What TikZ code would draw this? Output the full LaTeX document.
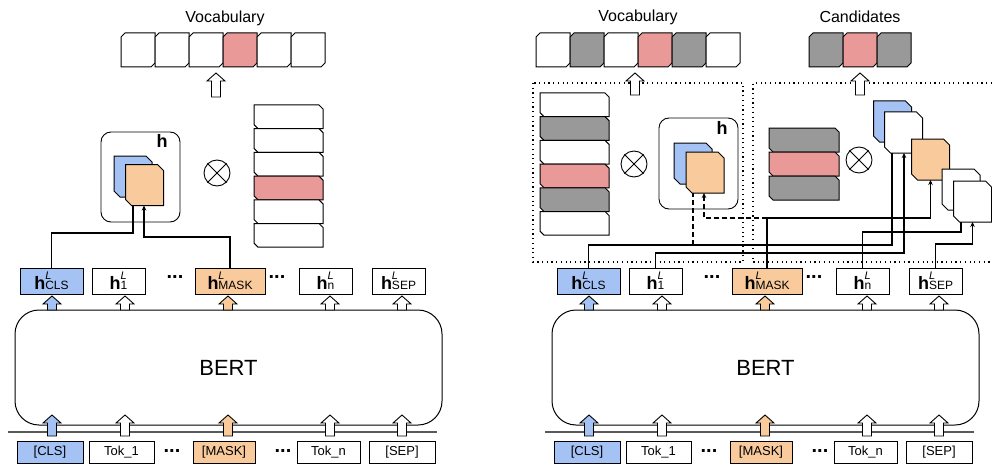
\documentclass[tikz,border=0pt]{standalone}
\usepackage{fontspec}
\setmainfont{Liberation Sans}
\usetikzlibrary{arrows.meta}
\definecolor{cblue}{HTML}{A4C2F4}
\definecolor{corange}{HTML}{F9CB9C}
\definecolor{cpink}{HTML}{EA9999}
\definecolor{cgrey}{HTML}{999999}
\newcommand\barrow[4]{\filldraw[fill=#4,draw=black,line width=0.9pt,line join=miter] ({#1-4.5},#2) -- ({#1-4.5},{#3+8}) -- ({#1-9},{#3+8}) -- (#1,#3) -- ({#1+9},{#3+8}) -- ({#1+4.5},{#3+8}) -- ({#1+4.5},#2) -- cycle;}
% chamfer top-left and bottom-right
\newcommand\chamA[3]{\filldraw[fill=#2, line width=1pt, line join=miter] ([xshift=#3]#1.north west) -- (#1.north east) -- ([yshift=#3]#1.south east) -- ([xshift=-#3]#1.south east) -- (#1.south west) -- ([yshift=-#3]#1.north west) -- cycle;}
% chamfer top-right and bottom-left
\newcommand\chamB[3]{\filldraw[fill=#2, line width=1pt, line join=miter] (#1.north west) -- ([xshift=-#3]#1.north east) -- ([yshift=-#3]#1.north east) -- (#1.south east) -- ([xshift=#3]#1.south west) -- ([yshift=#3]#1.south west) -- cycle;}
\newcommand\hL[1]{{\fontsize{18}{18}\selectfont\bfseries h}\rlap{\raisebox{10pt}{\fontsize{11}{11}\selectfont\itshape L}}{\fontsize{12}{12}\selectfont #1}}
\tikzset{
  tbox/.style={draw, line width=1pt, minimum height=22pt, inner sep=0pt, font=\fontsize{13}{14}\selectfont},
  hbox/.style={draw, line width=1pt, minimum height=26pt, inner sep=0pt},
  cellbox/.style={rectangle, inner sep=0pt, outer sep=0pt},
  hgroup/.style={draw, line width=0.9pt, rounded corners=10pt, minimum width=79pt, minimum height=90pt, inner sep=0pt},
  otimes/.style={circle, draw, line width=0.9pt, minimum size=26pt, inner sep=0pt},
  conn/.style={line width=1.1pt},
  tip/.style={-{Stealth[length=5pt,width=4.5pt]}},
  dashconn/.style={line width=1.1pt, dash pattern=on 5pt off 3pt},
  dotbox/.style={line width=1.2pt, dash pattern=on 1.2pt off 3.5pt},
  label/.style={font=\fontsize{16}{18}\selectfont, inner sep=0pt},
  dots/.style={font=\fontsize{20}{20}\selectfont\bfseries, inner sep=0pt}
}
\newcommand\lowerpart{%
  \node[hbox, fill=cblue, minimum width=63pt] (hcls) at (51.5,281) {\hL{CLS}};
  \node[hbox, minimum width=53pt] (h1) at (118.5,281) {\hL{1}};
  \node[dots] (hd1) at (175,277) {...};
  \node[hbox, fill=corange, minimum width=70pt] (hmask) at (230,281) {\hL{MASK}};
  \node[dots] (hd2) at (277,277) {...};
  \node[hbox, minimum width=53pt] (hn) at (325.5,281) {\hL{n}};
  \node[hbox, minimum width=53pt] (hsep) at (398.5,281) {\hL{SEP}};
  \node[draw, line width=1pt, rounded corners=24pt, minimum width=427pt, minimum height=115pt, font=\fontsize{22}{24}\selectfont] (bert) at (228.5,367.5) {BERT};
  \draw[line width=1.6pt, black!65] (8,432) -- (437,432);
  \barrow{52}{310}{296}{cblue}
  \barrow{125}{310}{296}{white}
  \barrow{228}{310}{296}{corange}
  \barrow{330}{310}{296}{white}
  \barrow{402}{310}{296}{white}
  \barrow{52}{436}{415}{cblue}
  \barrow{125}{436}{415}{white}
  \barrow{228}{436}{415}{corange}
  \barrow{330}{436}{415}{white}
  \barrow{402}{436}{415}{white}
  \node[tbox, fill=cblue, minimum width=66pt] (tcls) at (50,452) {[CLS]};
  \node[tbox, minimum width=65pt] (t1) at (121.5,452) {Tok\_1};
  \node[dots] (td1) at (172,451) {...};
  \node[tbox, fill=corange, minimum width=62pt] (tmask) at (224,452) {[MASK]};
  \node[dots] (td2) at (283,451) {...};
  \node[tbox, minimum width=63pt] (tn) at (328.5,452) {Tok\_n};
  \node[tbox, minimum width=66pt] (tsep) at (402,452) {[SEP]};
}
\begin{document}
\begin{tikzpicture}[x=1pt,y=-1pt]
\useasboundingbox (0,0) rectangle (992,468);
% ---------------- left panel ----------------
\node[label] (lvoc) at (225,18) {Vocabulary};
\foreach \i/\c in {1/white,2/white,3/white,4/cpink,5/white,6/white}{
  \node[cellbox, minimum width=34pt, minimum height=34pt] (lv\i) at ({121+17+34*(\i-1)},50) {};
  \chamA{lv\i}{\c}{4pt}}
\barrow{216}{97}{73}{white}
\node[hgroup] (lhg) at (140.5,177) {};
\node[font=\fontsize{18}{18}\selectfont\bfseries, inner sep=0pt] (lhlab) at (162,141) {h};
\node[cellbox, minimum width=38pt, minimum height=41pt] (lcb) at (133,176.5) {};
\chamB{lcb}{cblue}{6pt}
\node[cellbox, minimum width=38pt, minimum height=41pt] (lco) at (144.5,185) {};
\chamB{lco}{corange}{6pt}
\node[otimes] (lot) at (217,173) {};
\draw[line width=0.9pt] (lot.north west) -- (lot.south east) (lot.north east) -- (lot.south west);
\foreach \i/\c in {1/white,2/white,3/white,4/cpink,5/white,6/white}{
  \node[cellbox, minimum width=69pt, minimum height=23.7pt] (ls\i) at (288.5,{105+11.85+23.7*(\i-1)}) {};
  \chamB{ls\i}{\c}{4pt}}
\lowerpart
\draw[conn] (hcls.north) |- (133,233) -- (133,0 |- lco.south);
\draw[conn,tip] (hmask.north) |- (144,237) -- (144,0 |- lco.south);
% ---------------- right panel ----------------
\node[label] (rvoc) at (638,17) {Vocabulary};
\node[label] (rcand) at (860,17) {Candidates};
\foreach \i/\c in {1/white,2/cgrey,3/white,4/cpink,5/cgrey,6/white}{
  \node[cellbox, minimum width=34pt, minimum height=34pt] (rv\i) at ({536+17+34*(\i-1)},50) {};
  \chamA{rv\i}{\c}{4pt}}
\foreach \i/\c in {1/cgrey,2/cpink,3/cgrey}{
  \node[cellbox, minimum width=34pt, minimum height=34pt] (rc\i) at ({826+34*(\i-1)},50) {};
  \chamA{rc\i}{\c}{4pt}}
\draw[dotbox] (533,83) rectangle (743,262);
\draw[dotbox] (992,83) -- (753,83) -- (753,262) -- (992,262);
\barrow{635}{95}{73}{white}
\barrow{860}{95}{73}{white}
\foreach \i/\c in {1/white,2/cgrey,3/white,4/cpink,5/cgrey,6/white}{
  \node[cellbox, minimum width=69pt, minimum height=23.7pt] (rs\i) at (574.5,{93+11.85+23.7*(\i-1)}) {};
  \chamB{rs\i}{\c}{4pt}}
\node[otimes] (rot1) at (634,164) {};
\draw[line width=0.9pt] (rot1.north west) -- (rot1.south east) (rot1.north east) -- (rot1.south west);
\node[hgroup, minimum height=91pt] (rhg) at (698.5,163.5) {};
\node[font=\fontsize{18}{18}\selectfont\bfseries, inner sep=0pt] (rhlab) at (722,128) {h};
\node[cellbox, minimum width=38pt, minimum height=41pt] (rhb) at (693,163.5) {};
\chamB{rhb}{cblue}{6pt}
\node[cellbox, minimum width=38pt, minimum height=41pt] (rho) at (705,172.5) {};
\chamB{rho}{corange}{6pt}
\foreach \i/\c in {1/cgrey,2/cpink,3/cgrey}{
  \node[cellbox, minimum width=70pt, minimum height=24pt] (rcs\i) at (804,{140+24*(\i-1)}) {};
  \chamB{rcs\i}{\c}{4pt}}
\node[otimes] (rot2) at (859,160) {};
\draw[line width=0.9pt] (rot2.north west) -- (rot2.south east) (rot2.north east) -- (rot2.south west);
\foreach \n/\x/\y/\c in {rkb/892.5/121.5/cblue, rk1/903.5/132.5/white, rko/930.5/159.5/corange, rkn/961/189.5/white, rks/972.5/201.5/white}{
  \node[cellbox, minimum width=38pt, minimum height=41pt] (\n) at (\x,\y) {};
  \chamB{\n}{\c}{6pt}}
\begin{scope}[xshift=537pt, name prefix=R-]
\lowerpart
\end{scope}
\draw[conn] (R-hcls.north) |- (892,245) -- (892,0 |- rk1.south);
\draw[dashconn] (693,245) -- (693,0 |- rho.south);
\draw[conn,tip] (R-h1.north) |- (904,253) -- (904,0 |- rk1.south);
\draw[conn,tip] (R-hmask.north) |- (930.5,218) -- (rko.south);
\draw[dashconn,tip] (R-hmask.north |- 0,218) -| (704,0 |- rho.south);
\draw[conn] (R-hn.north) |- (961,232) -- (961,0 |- rks.south);
\draw[conn,tip] (R-hsep.north) |- (972.5,244) -- (rks.south);
\end{tikzpicture}
\end{document}
